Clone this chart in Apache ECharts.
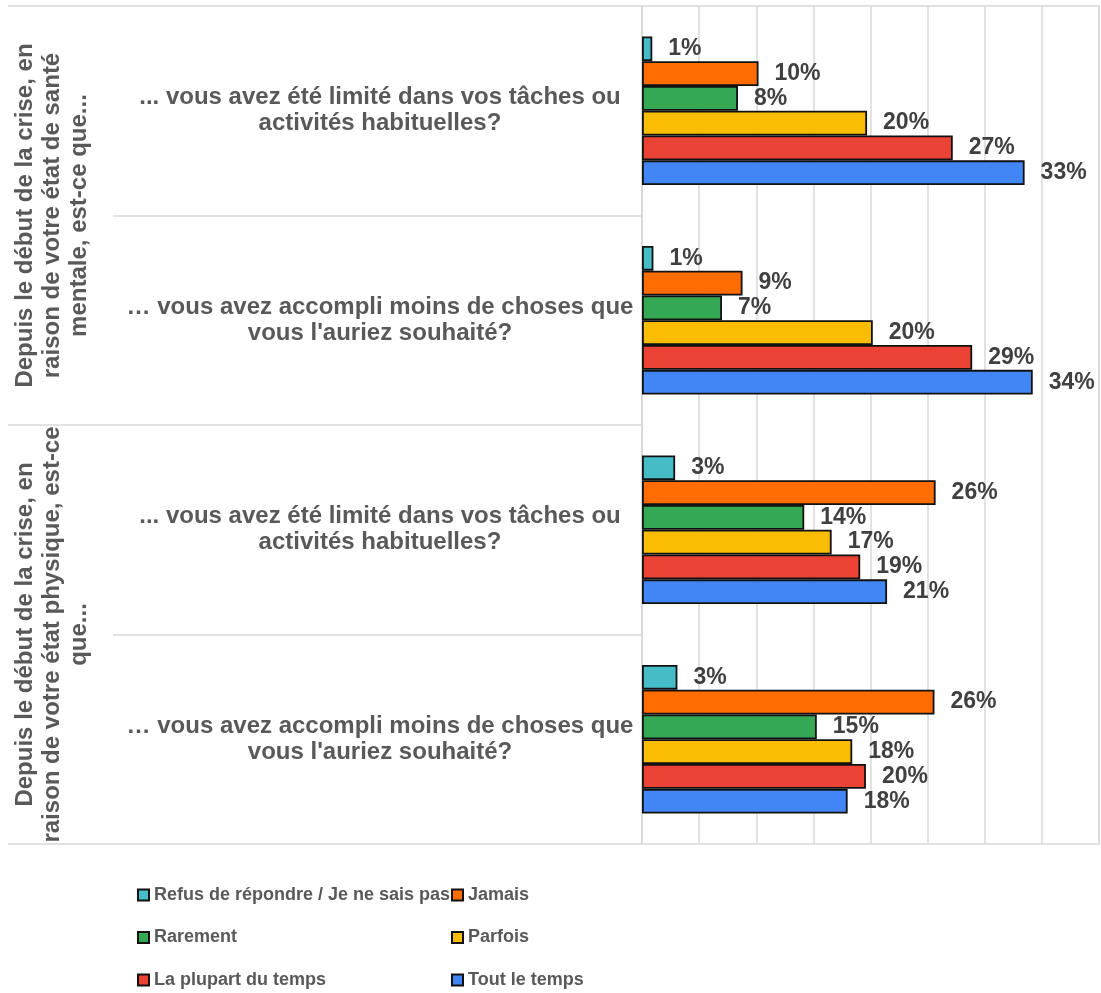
<!DOCTYPE html>
<html>
<head>
<meta charset="utf-8">
<script src="https://cdn.jsdelivr.net/npm/echarts@6/dist/echarts.min.js"></script>
<style>
html,body{margin:0;padding:0;background:#fff;}
#chart{width:1101px;height:993px;}
</style>
</head>
<body>
<div id="chart"></div>
<script>
const questionLabels = [
  '... vous avez été limité dans vos tâches ou\nactivités habituelles?',
  '… vous avez accompli moins de choses que\nvous l\'auriez souhaité?',
  '... vous avez été limité dans vos tâches ou\nactivités habituelles?',
  '… vous avez accompli moins de choses que\nvous l\'auriez souhaité?'
];
const groupLabels = [
  'Depuis le début de la crise, en\nraison de votre état de santé\nmentale, est-ce que...',
  'Depuis le début de la crise, en\nraison de votre état physique, est-ce\nque...'
];
const seriesNames = ['Refus de répondre / Je ne sais pas', 'Jamais', 'Rarement', 'Parfois', 'La plupart du temps', 'Tout le temps'];
const seriesColors = ['#46BDC6', '#FF6D01', '#34A853', '#FBBC04', '#EA4335', '#4285F4'];
const refus = [0.9, 1.0, 2.9, 3.1];
const jamais = [10.2, 8.8, 25.7, 25.6];
const rarement = [8.4, 7.0, 14.2, 15.3];
const parfois = [19.7, 20.2, 16.6, 18.4];
const plupart = [27.2, 28.9, 19.1, 19.6];
const toutLeTemps = [33.49, 34.2, 21.45, 18.0];
const seriesValues = [refus, jamais, rarement, parfois, plupart, toutLeTemps];

const FONT = "'Liberation Sans', Arial, sans-serif";
const GRID_COLOR = '#d9d9d9';

const chart = echarts.init(document.getElementById('chart'), null, {renderer: 'canvas'});
const legendText = {fontFamily: FONT, fontSize: 18, fontWeight: 'bold', color: '#595959', lineHeight: 20};
const option = {
  backgroundColor: '#ffffff',
  animation: false,
  textStyle: {fontFamily: FONT},
  grid: {left: 642, right: 2, top: 6, bottom: 149, show: true, borderColor: GRID_COLOR, borderWidth: 1.5, containLabel: false},
  xAxis: {
    type: 'value', min: 0, max: 40, interval: 5,
    axisLabel: {show: false}, axisTick: {show: false}, axisLine: {show: false},
    splitLine: {show: true, lineStyle: {color: GRID_COLOR, width: 1.5}}
  },
  yAxis: [
    {
      type: 'category', data: questionLabels, inverse: true, position: 'left',
      axisLine: {show: true, lineStyle: {color: GRID_COLOR, width: 1.5}},
      axisTick: {show: true, interval: 0, length: 529, lineStyle: {color: GRID_COLOR, width: 1.5}},
      axisLabel: {interval: 0, margin: 262, align: 'center', fontSize: 24, fontWeight: 'bold', color: '#595959', lineHeight: 26, fontFamily: FONT}
    },
    {
      type: 'category', data: groupLabels, inverse: true, position: 'left',
      axisLine: {show: false},
      axisTick: {show: true, interval: 0, length: 634, lineStyle: {color: GRID_COLOR, width: 1.5}},
      axisLabel: {interval: 0, rotate: 90, margin: 590, align: 'center', verticalAlign: 'middle', fontSize: 24, fontWeight: 'bold', color: '#595959', lineHeight: 27, fontFamily: FONT}
    }
  ],
  legend: [
    {
      orient: 'vertical', left: 137, top: 885, padding: 0, itemWidth: 11, itemHeight: 11, itemGap: 22.5,
      icon: 'rect',
      data: [seriesNames[0], seriesNames[2], seriesNames[4]],
      textStyle: legendText
    },
    {
      orient: 'vertical', left: 451, top: 885, padding: 0, itemWidth: 11, itemHeight: 11, itemGap: 22.5,
      icon: 'rect',
      data: [seriesNames[1], seriesNames[3], seriesNames[5]],
      textStyle: legendText
    }
  ],
  series: seriesNames.map((name, i) => ({
    name: name,
    type: 'bar',
    yAxisIndex: 0,
    data: seriesValues[i],
    barGap: '0%',
    barCategoryGap: '29%',
    itemStyle: {color: seriesColors[i], borderColor: '#111', borderWidth: 1.8},
    label: {
      show: true, position: 'right', distance: 16,
      formatter: p => Math.round(p.value) + '%',
      fontSize: 23, fontWeight: 'bold', color: '#404040', fontFamily: FONT
    }
  }))
};
chart.setOption(option);
</script>
</body>
</html>
